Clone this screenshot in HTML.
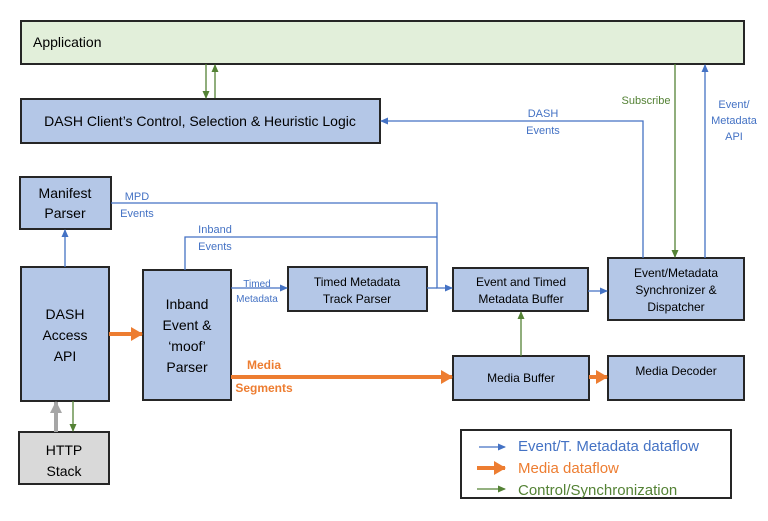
<!DOCTYPE html>
<html><head><meta charset="utf-8"><style>
body{margin:0;background:#fff;width:768px;height:516px;overflow:hidden}
text{font-family:"Liberation Sans",sans-serif}
</style></head><body>
<svg width="768" height="516" viewBox="0 0 768 516" xmlns="http://www.w3.org/2000/svg">
<defs>
<marker id="b" markerWidth="8" markerHeight="8" refX="7" refY="4" orient="auto" markerUnits="userSpaceOnUse"><path d="M0,0.5 L8,4 L0,7.5z" fill="#4472c4"/></marker>
<marker id="g" markerWidth="8" markerHeight="8" refX="7" refY="4" orient="auto" markerUnits="userSpaceOnUse"><path d="M0,0.5 L8,4 L0,7.5z" fill="#548235"/></marker>
<marker id="o" markerWidth="12" markerHeight="14" refX="11" refY="7" orient="auto" markerUnits="userSpaceOnUse"><path d="M0,0 L12,7 L0,14z" fill="#ed7d31"/></marker>
<marker id="gr" markerWidth="12" markerHeight="12" refX="11" refY="6" orient="auto" markerUnits="userSpaceOnUse"><path d="M0,0 L12,6 L0,12z" fill="#a6a6a6"/></marker>
</defs>
<g stroke="#262626" stroke-width="2">
<rect x="21" y="21" width="723" height="43" fill="#e2efda"/>
<rect x="21" y="99" width="359" height="44" fill="#b4c7e7"/>
<rect x="20" y="177" width="91" height="52" fill="#b4c7e7"/>
<rect x="21" y="267" width="88" height="134" fill="#b4c7e7"/>
<rect x="143" y="270" width="88" height="130" fill="#b4c7e7"/>
<rect x="288" y="267" width="139" height="44" fill="#b4c7e7"/>
<rect x="453" y="268" width="135" height="43" fill="#b4c7e7"/>
<rect x="608" y="258" width="136" height="62" fill="#b4c7e7"/>
<rect x="453" y="356" width="136" height="44" fill="#b4c7e7"/>
<rect x="608" y="356" width="136" height="44" fill="#b4c7e7"/>
<rect x="19" y="432" width="90" height="52" fill="#d9d9d9"/>
<rect x="461" y="430" width="270" height="68" fill="#fff"/>
</g>
<g fill="none" stroke-width="1.3">
<line x1="206" y1="64" x2="206" y2="98" stroke="#548235" marker-end="url(#g)"/>
<line x1="215" y1="98" x2="215" y2="65" stroke="#548235" marker-end="url(#g)"/>
<line x1="675" y1="64" x2="675" y2="257" stroke="#548235" marker-end="url(#g)"/>
<line x1="705" y1="258" x2="705" y2="65" stroke="#4472c4" marker-end="url(#b)"/>
<polyline points="643,258 643,121 381,121" stroke="#4472c4" marker-end="url(#b)"/>
<polyline points="111,203 437,203 437,288 452,288" stroke="#4472c4" marker-end="url(#b)"/>
<polyline points="185,270 185,237 437,237" stroke="#4472c4"/>
<line x1="65" y1="267" x2="65" y2="230" stroke="#4472c4" marker-end="url(#b)"/>
<line x1="231" y1="288" x2="287" y2="288" stroke="#4472c4" marker-end="url(#b)"/>
<line x1="427" y1="288" x2="437" y2="288" stroke="#4472c4"/>
<line x1="588" y1="291" x2="607" y2="291" stroke="#4472c4" marker-end="url(#b)"/>
<line x1="521" y1="356" x2="521" y2="312" stroke="#548235" marker-end="url(#g)"/>
<line x1="73" y1="401" x2="73" y2="431" stroke="#548235" marker-end="url(#g)"/>
<line x1="479" y1="447" x2="505" y2="447" stroke="#4472c4" marker-end="url(#b)"/>
<line x1="477" y1="489" x2="505" y2="489" stroke="#548235" marker-end="url(#g)"/>
</g>
<g stroke="#ed7d31" stroke-width="4" fill="none">
<line x1="109" y1="334" x2="142" y2="334" marker-end="url(#o)"/>
<line x1="231" y1="377" x2="452" y2="377" marker-end="url(#o)"/>
<line x1="589" y1="377" x2="607" y2="377" marker-end="url(#o)"/>
<line x1="477" y1="468" x2="505" y2="468" marker-end="url(#o)"/>
</g>
<line x1="56" y1="432" x2="56" y2="402" stroke="#a6a6a6" stroke-width="4" marker-end="url(#gr)"/>
<g font-size="14" fill="#000" text-anchor="middle">
<text x="33" y="47" text-anchor="start">Application</text>
<text x="200" y="126">DASH Client’s Control, Selection &amp; Heuristic Logic</text>
<text x="65" y="198">Manifest</text><text x="65" y="218">Parser</text>
<text x="65" y="319">DASH</text><text x="65" y="340">Access</text><text x="65" y="361">API</text>
<text x="187" y="309">Inband</text><text x="187" y="330">Event &amp;</text><text x="187" y="351">‘moof’</text><text x="187" y="372">Parser</text>
<text x="64" y="455">HTTP</text><text x="64" y="476">Stack</text>
</g>
<g font-size="12" fill="#000" text-anchor="middle">
<text x="357" y="286">Timed Metadata</text><text x="357" y="303">Track Parser</text>
<text x="521" y="286">Event and Timed</text><text x="521" y="303">Metadata Buffer</text>
<text x="676" y="277">Event/Metadata</text><text x="676" y="294">Synchronizer &amp;</text><text x="676" y="311">Dispatcher</text>
<text x="521" y="382">Media Buffer</text>
<text x="676" y="375">Media Decoder</text>
</g>
<g font-size="11" fill="#4472c4" text-anchor="middle">
<text x="543" y="117">DASH</text><text x="543" y="134">Events</text>
<text x="734" y="108">Event/</text><text x="734" y="124">Metadata</text><text x="734" y="140">API</text>
<text x="137" y="200">MPD</text><text x="137" y="217">Events</text>
<text x="215" y="233">Inband</text><text x="215" y="250">Events</text>
<text x="257" y="287" font-size="10">Timed</text><text x="257" y="302" font-size="10">Metadata</text>
</g>
<text x="646" y="104" font-size="11" fill="#548235" text-anchor="middle">Subscribe</text>
<g font-size="12" font-weight="bold" fill="#ed7d31" text-anchor="middle">
<text x="264" y="369">Media</text><text x="264" y="392">Segments</text>
</g>
<g font-size="15" text-anchor="start">
<text x="518" y="451" fill="#4472c4">Event/T. Metadata dataflow</text>
<text x="518" y="473" fill="#ed7d31">Media dataflow</text>
<text x="518" y="495" fill="#548235">Control/Synchronization</text>
</g>
</svg>
</body></html>
